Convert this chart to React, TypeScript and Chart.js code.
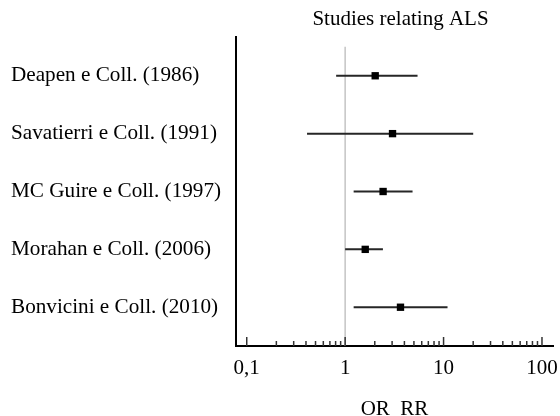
import React, { useEffect, useRef } from "react";
import { Chart, registerables } from "chart.js";

Chart.register(...registerables);

const studies = [
  "Deapen e Coll. (1986)",
  "Savatierri e Coll. (1991)",
  "MC Guire e Coll. (1997)",
  "Morahan e Coll. (2006)",
  "Bonvicini e Coll. (2010)",
];
const oddsRatio = [2.02, 3.03, 2.43, 1.6, 3.65];
const ciLow = [0.81, 0.41, 1.22, 1.0, 1.22];
const ciHigh = [5.44, 20.0, 4.84, 2.42, 10.97];

const majorTicks = [0.1, 1, 10, 100];
const majorTickLabels = ["0,1", "1", "10", "100"];
const minorMultipliers = [2, 3, 4, 5, 6, 7, 8, 9];

const chartTitle = "Studies relating ALS";
const xAxisTitle = "OR_RR";

const X_MIN = 0.0778;
const X_MAX = 129.4;
const Y_MIN = 0.33;
const Y_MAX = 5.67;
const REF_Y_TOP = 0.5;

const FONT = "'Liberation Serif', 'Times New Roman', serif";

export default function App() {
  const canvasRef = useRef<HTMLCanvasElement | null>(null);

  useEffect(() => {
    if (!canvasRef.current) return;

    const allTicks: number[] = [];
    majorTicks.forEach((m, i) => {
      allTicks.push(m);
      if (i < majorTicks.length - 1) {
        minorMultipliers.forEach((k) => allTicks.push(+(m * k).toPrecision(6)));
      }
    });

    const innerTicks = {
      id: "innerTicks",
      afterDatasetsDraw(chart: any) {
        const { ctx, chartArea, scales } = chart;
        const xs = scales.x;
        ctx.save();
        ctx.strokeStyle = "#333";
        ctx.lineWidth = 1.5;
        xs.ticks.forEach((t: any) => {
          const px = xs.getPixelForValue(t.value);
          const isMajor = majorTicks.some((m) => Math.abs(m - t.value) < 1e-9);
          const len = isMajor ? 9 : 5;
          ctx.beginPath();
          ctx.moveTo(px, chartArea.bottom);
          ctx.lineTo(px, chartArea.bottom - len);
          ctx.stroke();
        });
        ctx.restore();
      },
    };

    const topTitle = {
      id: "topTitle",
      afterDraw(chart: any) {
        const { ctx, chartArea } = chart;
        ctx.save();
        ctx.font = `21px ${FONT}`;
        ctx.fillStyle = "#000";
        ctx.textAlign = "center";
        ctx.textBaseline = "alphabetic";
        ctx.fillText(chartTitle, (chartArea.left + chartArea.right) / 2 + 6, 25);
        ctx.restore();
      },
    };

    const datasets: any[] = [];
    datasets.push({
      label: "OR",
      data: studies.map((_, i) => ({ x: oddsRatio[i], y: i + 1 })),
      pointStyle: "rect",
      pointRadius: 5.2,
      pointBorderWidth: 0,
      backgroundColor: "#000",
      borderColor: "#000",
      showLine: false,
    });
    studies.forEach((s, i) => {
      datasets.push({
        label: s,
        data: [
          { x: ciLow[i], y: i + 1 },
          { x: ciHigh[i], y: i + 1 },
        ],
        showLine: true,
        borderColor: "#262626",
        borderWidth: 2,
        pointRadius: 0,
      });
    });
    datasets.push({
      label: "ref",
      data: [
        { x: 1, y: REF_Y_TOP },
        { x: 1, y: Y_MAX },
      ],
      showLine: true,
      borderColor: "#c4c4c4",
      borderWidth: 1.5,
      pointRadius: 0,
    });

    const chart = new Chart(canvasRef.current, {
      type: "scatter",
      data: { datasets },
      plugins: [innerTicks, topTitle],
      options: {
        animation: false,
        responsive: true,
        maintainAspectRatio: false,
        layout: { padding: { left: 11, top: 37, right: 0, bottom: 0 } },
        plugins: {
          legend: { display: false },
          tooltip: { enabled: false },
          title: { display: false },
        },
        scales: {
          x: {
            type: "logarithmic",
            min: X_MIN,
            max: X_MAX,
            afterBuildTicks(scale: any) {
              scale.ticks = allTicks.map((v) => ({ value: v }));
            },
            afterFit(scale: any) {
              scale.height = 70;
              scale.paddingRight = 7;
              scale.paddingLeft = 0;
            },
            grid: { display: false, drawTicks: false },
            border: { display: true, color: "#000", width: 2 },
            ticks: {
              autoSkip: false,
              maxRotation: 0,
              padding: 10,
              color: "#000",
              font: { family: FONT, size: 21 },
              callback(value: any) {
                const idx = majorTicks.findIndex((m) => Math.abs(m - Number(value)) < 1e-9);
                return idx >= 0 ? majorTickLabels[idx] : "";
              },
            },
            title: {
              display: true,
              text: xAxisTitle,
              color: "#000",
              font: { family: FONT, size: 21 },
              padding: { top: 0, bottom: -6 },
            },
          },
          y: {
            type: "linear",
            reverse: true,
            min: Y_MIN,
            max: Y_MAX,
            afterBuildTicks(scale: any) {
              scale.ticks = studies.map((_, i) => ({ value: i + 1 }));
            },
            afterFit(scale: any) {
              scale.width = 225;
            },
            grid: { display: false, drawTicks: false },
            border: { display: true, color: "#000", width: 2 },
            ticks: {
              crossAlign: "far",
              color: "#000",
              font: { family: FONT, size: 21.2 },
              callback(value: any) {
                const i = Math.round(Number(value)) - 1;
                return studies[i] ?? "";
              },
            },
          },
        },
      },
    });

    return () => chart.destroy();
  }, []);

  return (
    <div style={{ position: "absolute", left: 0, top: 0, width: 560, height: 416 }}>
      <canvas ref={canvasRef} />
    </div>
  );
}
